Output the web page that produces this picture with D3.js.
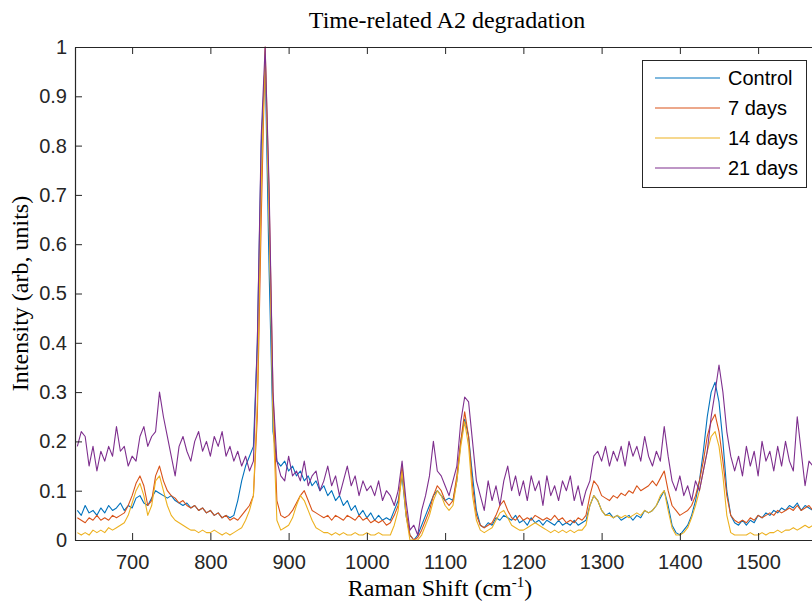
<!DOCTYPE html>
<html>
<head>
<meta charset="utf-8">
<script src="https://cdn.jsdelivr.net/npm/d3@7/dist/d3.min.js"></script>
<style>
  html, body { margin: 0; padding: 0; background: #fff; }
  svg { display: block; }
</style>
</head>
<body>
<svg id="chart" width="812" height="603"></svg>
<script>
// ---------------- data ----------------
const shift = [
  630,635,640,645,650,655,660,665,670,675,
  680,685,690,695,700,705,710,715,720,725,
  730,735,740,745,750,755,760,765,770,775,
  780,785,790,795,800,805,810,815,820,825,
  830,835,840,845,850,855,860,865,870,875,
  880,885,890,895,900,905,910,915,920,925,
  930,935,940,945,950,955,960,965,970,975,
  980,985,990,995,1000,1005,1010,1015,1020,1025,
  1030,1035,1040,1045,1050,1055,1060,1065,1070,1075,
  1080,1085,1090,1095,1100,1105,1110,1115,1120,1125,
  1130,1135,1140,1145,1150,1155,1160,1165,1170,1175,
  1180,1185,1190,1195,1200,1205,1210,1215,1220,1225,
  1230,1235,1240,1245,1250,1255,1260,1265,1270,1275,
  1280,1285,1290,1295,1300,1305,1310,1315,1320,1325,
  1330,1335,1340,1345,1350,1355,1360,1365,1370,1375,
  1380,1385,1390,1395,1400,1405,1410,1415,1420,1425,
  1430,1435,1440,1445,1450,1455,1460,1465,1470,1475,
  1480,1485,1490,1495,1500,1505,1510,1515,1520,1525,
  1530,1535,1540,1545,1550,1555,1560,1565,1570,1575
];

const control = [
  0.06,0.05,0.07,0.055,0.06,0.05,0.065,0.055,0.07,0.06,
  0.065,0.075,0.06,0.07,0.065,0.085,0.09,0.075,0.07,0.085,
  0.10,0.095,0.09,0.085,0.09,0.08,0.075,0.07,0.075,0.065,
  0.07,0.06,0.065,0.055,0.06,0.05,0.055,0.045,0.05,0.045,
  0.05,0.08,0.12,0.15,0.17,0.19,0.40,0.80,0.97,0.55,
  0.22,0.16,0.15,0.16,0.14,0.15,0.13,0.14,0.12,0.13,
  0.11,0.12,0.10,0.11,0.09,0.10,0.08,0.09,0.07,0.08,
  0.06,0.07,0.05,0.06,0.045,0.055,0.04,0.05,0.04,0.045,
  0.04,0.06,0.08,0.13,0.05,0.01,0.0,0.01,0.03,0.05,
  0.07,0.09,0.10,0.09,0.08,0.085,0.08,0.12,0.20,0.245,
  0.21,0.13,0.06,0.03,0.025,0.035,0.03,0.045,0.04,0.05,
  0.045,0.04,0.05,0.035,0.04,0.03,0.045,0.035,0.04,0.03,
  0.04,0.035,0.03,0.04,0.03,0.035,0.03,0.04,0.03,0.035,
  0.04,0.07,0.09,0.08,0.06,0.05,0.055,0.045,0.05,0.04,
  0.045,0.05,0.04,0.05,0.045,0.06,0.055,0.06,0.07,0.085,
  0.10,0.07,0.03,0.015,0.01,0.02,0.03,0.05,0.08,0.12,
  0.18,0.25,0.30,0.32,0.28,0.20,0.10,0.05,0.035,0.03,
  0.04,0.03,0.04,0.035,0.05,0.045,0.055,0.05,0.06,0.055,
  0.065,0.06,0.07,0.065,0.075,0.06,0.07,0.065,0.06,0.07
];

const days7 = [
  0.045,0.04,0.035,0.045,0.04,0.05,0.04,0.045,0.04,0.05,
  0.045,0.05,0.055,0.07,0.09,0.115,0.13,0.11,0.07,0.08,
  0.13,0.15,0.12,0.10,0.09,0.085,0.075,0.08,0.07,0.065,
  0.07,0.06,0.065,0.055,0.06,0.05,0.055,0.045,0.05,0.04,
  0.045,0.04,0.05,0.06,0.07,0.09,0.25,0.65,1.0,0.70,
  0.30,0.08,0.05,0.045,0.05,0.06,0.075,0.09,0.10,0.08,
  0.06,0.055,0.05,0.045,0.05,0.04,0.05,0.045,0.04,0.05,
  0.045,0.04,0.05,0.04,0.045,0.035,0.04,0.035,0.04,0.03,
  0.035,0.05,0.07,0.15,0.06,0.01,0.0,0.005,0.02,0.04,
  0.06,0.09,0.11,0.10,0.08,0.07,0.08,0.13,0.20,0.26,
  0.21,0.11,0.05,0.03,0.025,0.03,0.035,0.05,0.07,0.08,
  0.06,0.045,0.04,0.05,0.04,0.045,0.04,0.05,0.045,0.04,
  0.045,0.04,0.05,0.04,0.045,0.035,0.04,0.035,0.045,0.04,
  0.05,0.09,0.12,0.11,0.09,0.085,0.08,0.09,0.085,0.095,
  0.09,0.10,0.095,0.11,0.10,0.105,0.11,0.12,0.11,0.125,
  0.14,0.10,0.07,0.06,0.05,0.055,0.06,0.07,0.09,0.12,
  0.16,0.21,0.24,0.255,0.22,0.16,0.09,0.05,0.04,0.035,
  0.04,0.035,0.045,0.04,0.05,0.045,0.05,0.055,0.05,0.06,
  0.055,0.06,0.065,0.06,0.07,0.06,0.065,0.07,0.06,0.065
];

const days14 = [
  0.015,0.01,0.015,0.01,0.02,0.015,0.02,0.015,0.025,0.02,
  0.025,0.03,0.035,0.05,0.075,0.10,0.115,0.09,0.05,0.07,
  0.12,0.13,0.10,0.07,0.05,0.04,0.035,0.03,0.025,0.02,
  0.02,0.015,0.02,0.015,0.015,0.02,0.015,0.01,0.015,0.01,
  0.015,0.02,0.025,0.04,0.06,0.09,0.28,0.72,0.99,0.65,
  0.25,0.04,0.02,0.025,0.03,0.045,0.07,0.09,0.08,0.06,
  0.04,0.025,0.02,0.015,0.015,0.01,0.015,0.01,0.015,0.01,
  0.01,0.015,0.01,0.01,0.015,0.01,0.01,0.015,0.01,0.01,
  0.01,0.03,0.06,0.14,0.05,0.0,0.0,0.0,0.01,0.03,
  0.05,0.08,0.10,0.09,0.07,0.06,0.07,0.12,0.19,0.24,
  0.19,0.09,0.04,0.02,0.015,0.02,0.025,0.04,0.055,0.06,
  0.045,0.03,0.025,0.02,0.02,0.025,0.03,0.035,0.03,0.025,
  0.02,0.015,0.02,0.015,0.02,0.015,0.02,0.015,0.02,0.02,
  0.03,0.07,0.09,0.08,0.06,0.05,0.05,0.045,0.05,0.045,
  0.05,0.045,0.05,0.055,0.05,0.06,0.055,0.06,0.07,0.09,
  0.10,0.06,0.025,0.01,0.01,0.015,0.025,0.045,0.07,0.10,
  0.14,0.18,0.21,0.22,0.19,0.13,0.05,0.015,0.01,0.01,
  0.01,0.01,0.015,0.01,0.01,0.015,0.01,0.015,0.015,0.02,
  0.015,0.02,0.02,0.025,0.02,0.025,0.03,0.025,0.03,0.03
];

const days21 = [
  0.19,0.22,0.21,0.15,0.19,0.14,0.18,0.16,0.19,0.17,
  0.23,0.18,0.19,0.15,0.17,0.16,0.21,0.23,0.19,0.21,
  0.22,0.30,0.25,0.21,0.17,0.13,0.19,0.21,0.18,0.16,
  0.20,0.22,0.18,0.20,0.17,0.21,0.19,0.22,0.17,0.19,
  0.16,0.18,0.15,0.17,0.14,0.16,0.40,0.82,1.0,0.72,
  0.30,0.16,0.13,0.12,0.17,0.13,0.14,0.12,0.16,0.11,
  0.13,0.14,0.10,0.12,0.15,0.11,0.13,0.09,0.12,0.15,
  0.11,0.13,0.09,0.12,0.10,0.11,0.09,0.12,0.08,0.10,
  0.09,0.07,0.10,0.16,0.08,0.02,0.03,0.01,0.06,0.09,
  0.13,0.20,0.14,0.13,0.11,0.09,0.12,0.15,0.24,0.29,
  0.28,0.20,0.12,0.09,0.06,0.12,0.08,0.11,0.07,0.12,
  0.15,0.10,0.13,0.09,0.12,0.08,0.13,0.10,0.12,0.07,
  0.13,0.09,0.11,0.08,0.12,0.10,0.13,0.08,0.11,0.07,
  0.10,0.12,0.17,0.18,0.16,0.19,0.15,0.18,0.16,0.19,
  0.15,0.20,0.17,0.19,0.16,0.21,0.17,0.15,0.18,0.16,
  0.23,0.17,0.12,0.10,0.13,0.09,0.11,0.08,0.12,0.10,
  0.14,0.18,0.25,0.30,0.355,0.30,0.22,0.17,0.14,0.17,
  0.13,0.19,0.15,0.18,0.13,0.20,0.16,0.18,0.14,0.19,
  0.15,0.20,0.16,0.14,0.25,0.18,0.11,0.16,0.15,0.17
];

const seriesNames = ["Control", "7 days", "14 days", "21 days"];
const seriesColors = ["#0072BD", "#D95319", "#EDB120", "#7E2F8E"];
const xTicks = [700, 800, 900, 1000, 1100, 1200, 1300, 1400, 1500];
const yTicks = [0, 0.1, 0.2, 0.3, 0.4, 0.5, 0.6, 0.7, 0.8, 0.9, 1];
const titleText = "Time-related A2 degradation";
const yLabelText = "Intensity (arb, units)";

// ---------------- layout ----------------
const svg = d3.select("#chart");
svg.append("rect").attr("width", 812).attr("height", 603).attr("fill", "#fff");

const plotLeft = 75, plotTop = 47, plotBottom = 540;
const xMin = 627, xMax = 1585;
const pxPerUnit = 0.7825;
const x = d3.scaleLinear().domain([xMin, xMax]).range([plotLeft, plotLeft + (xMax - xMin) * pxPerUnit]);
const y = d3.scaleLinear().domain([0, 1]).range([plotBottom, plotTop]);
const axisColor = "#262626";

svg.append("defs").append("clipPath").attr("id", "plotclip")
  .append("rect").attr("x", plotLeft).attr("y", plotTop - 1).attr("width", 812 - plotLeft).attr("height", plotBottom - plotTop + 2);

// data lines
const seriesData = [control, days7, days14, days21];
const line = d3.line().x((d, i) => x(shift[i])).y(d => y(d));
const g = svg.append("g").attr("clip-path", "url(#plotclip)");
seriesData.forEach((s, k) => {
  g.append("path").datum(s)
    .attr("d", line)
    .attr("fill", "none")
    .attr("stroke", seriesColors[k])
    .attr("stroke-width", 1.1)
    .attr("stroke-linejoin", "round");
});

// axes
const tickFont = "'Liberation Sans', Arial, sans-serif";
const xAxisB = d3.axisBottom(x).tickValues(xTicks).tickSizeInner(-7).tickSizeOuter(0).tickPadding(15)
  .tickFormat(d => String(d));
const xAxisT = d3.axisTop(x).tickValues(xTicks).tickSizeInner(-7).tickSizeOuter(0).tickFormat("");
const yAxisL = d3.axisLeft(y).tickValues(yTicks).tickSizeInner(-7).tickSizeOuter(0).tickPadding(8)
  .tickFormat(d => d === 0 ? "0" : d === 1 ? "1" : d3.format(".1f")(d));

function styleAxis(sel) {
  sel.selectAll("path.domain").attr("stroke", axisColor).attr("stroke-width", 1.2);
  sel.selectAll(".tick line").attr("stroke", axisColor).attr("stroke-width", 1);
  sel.selectAll(".tick text").attr("fill", axisColor).style("font-family", tickFont).style("font-size", "20px");
}
styleAxis(svg.append("g").attr("transform", `translate(0,${plotBottom})`).call(xAxisB));
styleAxis(svg.append("g").attr("transform", `translate(0,${plotTop})`).call(xAxisT));
styleAxis(svg.append("g").attr("transform", `translate(${plotLeft},0)`).call(yAxisL));

// title & labels
const serif = "'Liberation Serif', 'Times New Roman', serif";
svg.append("text").attr("x", 447).attr("y", 28).attr("text-anchor", "middle")
  .style("font-family", serif).style("font-size", "24px").attr("fill", "#000").text(titleText);

svg.append("text").attr("transform", `translate(28,${(plotTop + plotBottom) / 2}) rotate(-90)`)
  .attr("text-anchor", "middle").style("font-family", serif).style("font-size", "24px")
  .attr("fill", "#000").text(yLabelText);

const xl = svg.append("text").attr("x", 440).attr("y", 596).attr("text-anchor", "middle")
  .style("font-family", serif).style("font-size", "24px").attr("fill", "#000");
xl.append("tspan").text("Raman Shift (cm");
xl.append("tspan").attr("dy", -9).style("font-size", "15px").text("-1");
xl.append("tspan").attr("dy", 9).text(")");

// legend
const lg = svg.append("g");
lg.append("rect").attr("x", 642.5).attr("y", 60.5).attr("width", 164).attr("height", 127)
  .attr("fill", "#fff").attr("stroke", axisColor).attr("stroke-width", 1);
seriesNames.forEach((name, k) => {
  const cy = 78 + k * 30;
  lg.append("line").attr("x1", 655).attr("x2", 720).attr("y1", cy).attr("y2", cy)
    .attr("stroke", seriesColors[k]).attr("stroke-width", 1.2);
  lg.append("text").attr("x", 728).attr("y", cy + 7).style("font-family", tickFont)
    .style("font-size", "20px").attr("fill", "#000").text(name);
});
</script>
</body>
</html>
